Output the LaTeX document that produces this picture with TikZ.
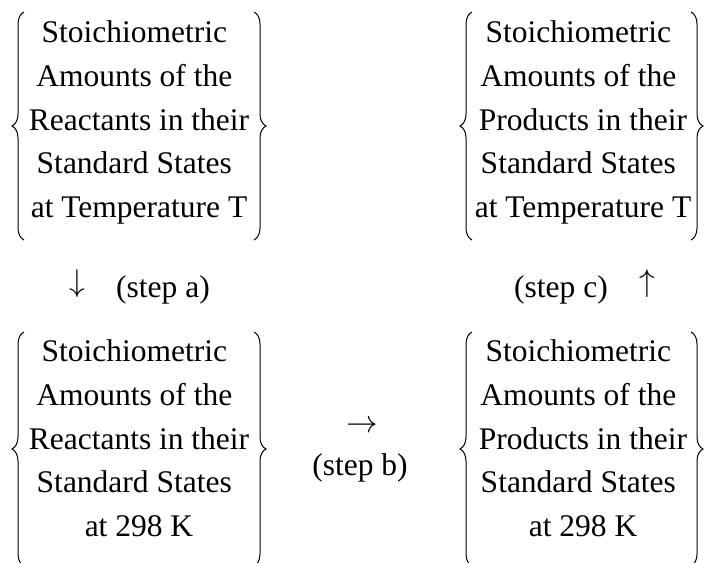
\RequirePackage{fix-cm}
\documentclass[tikz,border=0pt]{standalone}
\usepackage{fontspec}
\setmainfont{Liberation Serif}
\usetikzlibrary{decorations.pathreplacing}
\newcommand{\tsp}{\kern0.3em}
\begin{document}
\begin{tikzpicture}[x=1pt,y=-1pt,
	block/.style={align=center,inner sep=0pt,anchor=north,font=\fontsize{31.5pt}{43.75pt}\selectfont},
	steptext/.style={inner sep=0pt,font=\fontsize{31.5pt}{37pt}\selectfont},
	curly/.style={decorate,decoration={brace,amplitude=12pt},line width=1pt}]
			\clip (0,0) rectangle (706,562);
			% ends of the braces
			\coordinate (A) at (24,240);\coordinate (B) at (24,12);
			\coordinate (C) at (254,12);\coordinate (D) at (254,240);
			\coordinate (E) at (472,240);\coordinate (F) at (472,12);
			\coordinate (G) at (691,12);\coordinate (H) at (691,240);
			\coordinate (I) at (24,566);\coordinate (J) at (24,332);
			\coordinate (K) at (254,332);\coordinate (L) at (254,566);
			\coordinate (M) at (472,566);\coordinate (N) at (472,332);
			\coordinate (P) at (691,332);\coordinate (Q) at (691,566);
			\node[block] (reacT) at (139,20.5) {Stoichiometric\tsp\\ Amounts of the\tsp\\ Reactants in their\\ Standard States\tsp\\ at Temperature T};
			\node[block] (prodT) at (583,20.5) {Stoichiometric\tsp\\ Amounts of the\tsp\\ Products in their\\ Standard States\tsp\\ at Temperature T};
			\node[block] (reac298) at (139,339.5) {Stoichiometric\tsp\\ Amounts of the\tsp\\ Reactants in their\\ Standard States\tsp\\ at 298 K};
			\node[block] (prod298) at (583,339.5) {Stoichiometric\tsp\\ Amounts of the\tsp\\ Products in their\\ Standard States\tsp\\ at 298 K};
			\draw[curly] (A)--(B); \draw[curly] (C)--(D);
			\draw[curly] (E)--(F); \draw[curly] (G)--(H);
			\draw[curly] (I)--(J); \draw[curly] (K)--(L);
			\draw[curly] (M)--(N); \draw[curly] (P)--(Q);
			\node[steptext] (arra) at (77,284) {$\downarrow$};
			\node[steptext,anchor=base] (stepa) at (163,297) {(step a)};
			\node[steptext] (arrc) at (647,284) {$\uparrow$};
			\node[steptext,anchor=base] (stepc) at (561,297) {(step c)};
			\node[steptext] (arrb) at (362,427) {$\rightarrow$};
			\node[steptext,anchor=base] (stepb) at (360,475) {(step b)};
			\end{tikzpicture}
\end{document}
